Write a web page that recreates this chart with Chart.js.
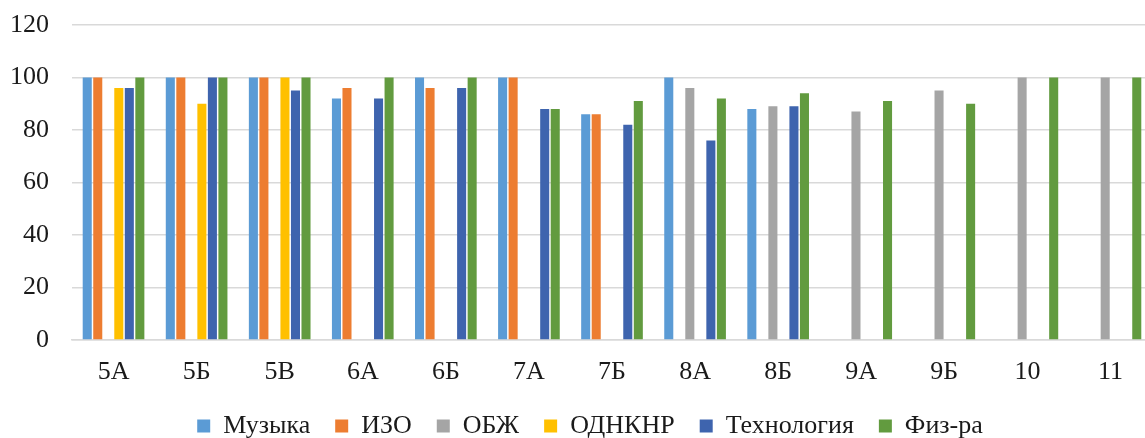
<!DOCTYPE html>
<html>
<head>
<meta charset="utf-8">
<script src="https://cdn.jsdelivr.net/npm/chart.js@4"></script>
<style>
  html, body { margin: 0; padding: 0; background: #fff; overflow: hidden; }
  #wrap { width: 1152px; height: 438px; }
</style>
</head>
<body>
<div id="wrap"><canvas id="grafico"></canvas></div>
<script>
const classes = ['5А', '5Б', '5В', '6А', '6Б', '7А', '7Б', '8А', '8Б', '9А', '9Б', '10', '11'];

const muzyka     = [100, 100, 100, 92, 100, 100, 86, 100, 88, null, null, null, null];
const izo        = [100, 100, 100, 96, 96, 100, 86, null, null, null, null, null, null];
const obzh       = [null, null, null, null, null, null, null, 96, 89, 87, 95, 100, 100];
const odnknr     = [96, 90, 100, null, null, null, null, null, null, null, null, null, null];
const tehnologia = [96, 100, 95, 92, 96, 88, 82, 76, 89, null, null, null, null];
const fizra      = [100, 100, 100, 100, 100, 88, 91, 92, 94, 91, 90, 100, 100];

const yTicks = [0, 20, 40, 60, 80, 100, 120];

const fonte = 'Liberation Serif';

// legenda um pouco à direita, como no original
const deslocaLegenda = {
    id: 'deslocaLegenda',
    afterLayout(chart) {
        chart.legend.left += 28;
    }
};

const ctx = document.getElementById('grafico');

const chart = new Chart(ctx, {
    type: 'bar',
    data: {
        labels: classes,
        datasets: [
            { label: 'Музыка', backgroundColor: '#5B9BD5', data: muzyka },
            { label: 'ИЗО', backgroundColor: '#ED7D31', data: izo },
            { label: 'ОБЖ', backgroundColor: '#A5A5A5', data: obzh },
            { label: 'ОДНКНР', backgroundColor: '#FFC000', data: odnknr },
            { label: 'Технология', backgroundColor: '#3E64AE', data: tehnologia },
            { label: 'Физ-ра', backgroundColor: '#629B3F', data: fizra }
        ]
    },
    plugins: [deslocaLegenda],
    options: {
        responsive: true,
        maintainAspectRatio: false,
        animation: false,
        categoryPercentage: 0.76,
        barPercentage: 0.86,
        layout: {
            padding: { top: 0, left: 0, right: 0, bottom: -11 }
        },
        plugins: {
            legend: {
                position: 'bottom',
                labels: {
                    boxWidth: 13,
                    boxHeight: 13,
                    padding: 25,
                    color: '#1a1a1a',
                    font: { family: fonte, size: 26 }
                }
            },
            tooltip: { enabled: false }
        },
        scales: {
            x: {
                grid: { display: false, drawTicks: false },
                border: { color: '#d9d9d9', width: 1.5 },
                afterFit: function(axis) {
                    axis.height = 48;
                },
                ticks: {
                    color: '#1a1a1a',
                    padding: 17,
                    font: { family: fonte, size: 26 }
                }
            },
            y: {
                min: 0,
                max: 120,
                afterBuildTicks: function(axis) {
                    axis.ticks = yTicks.map(v => ({ value: v }));
                },
                afterFit: function(axis) {
                    axis.width = 72;
                },
                grid: { color: '#d9d9d9', lineWidth: 1.5, drawTicks: false },
                border: { display: false },
                ticks: {
                    color: '#1a1a1a',
                    padding: 23,
                    font: { family: fonte, size: 26, lineHeight: 0.15 }
                }
            }
        }
    }
});
</script>
</body>
</html>
